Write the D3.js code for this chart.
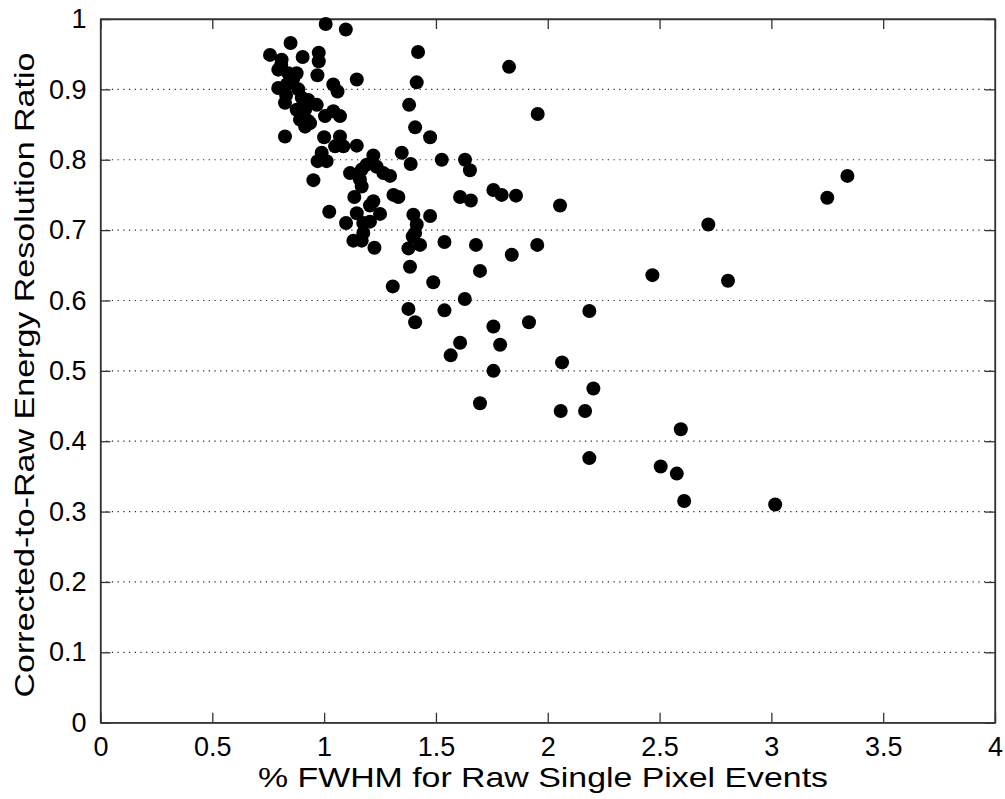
<!DOCTYPE html>
<html>
<head>
<meta charset="utf-8">
<script src="https://cdn.jsdelivr.net/npm/d3@7"></script>
<style>
	body { margin: 0; background: #fff; }
	text { font-family: Arial, "Liberation Sans", sans-serif; fill: #000; }
</style>
</head>
<body>
<div id="fwhm-scatter"></div>
<script>
// raw fwhm (%) for each detector pixel group
var fwhmRaw = [
	1.007, 1.097, 0.850, 0.758, 0.904, 0.976, 0.976, 0.810, 0.795, 0.840,
	0.877, 0.970, 1.146, 0.795, 0.833, 0.885, 0.900, 0.825, 0.929, 0.967,
	0.877, 0.915, 0.892, 0.929, 1.004, 1.041, 1.071, 1.041, 1.060, 0.825,
	1.000, 1.071, 1.049, 1.086, 0.989, 1.011, 0.915, 0.952, 0.971, 1.146,
	0.830, 0.937, 0.862, 0.808,
	1.220, 1.190, 1.168, 1.235, 1.265, 1.295, 1.116, 1.160, 1.168, 1.135,
	1.220, 1.310, 1.332, 1.205, 1.023, 1.146, 1.250, 1.098, 1.175, 1.205,
	1.175, 1.131, 1.168, 1.225, 1.347, 1.387, 1.380, 1.407, 1.474, 1.420,
	1.414, 1.526, 1.630, 1.652, 1.608, 1.656, 1.757, 1.794, 1.858, 2.055,
	1.399, 1.474, 1.414, 1.407, 1.396, 1.377, 1.429, 1.538, 1.679, 1.839,
	1.953, 1.697, 1.384, 1.488, 1.307, 1.629, 1.377, 1.538, 1.407, 2.186,
	1.757, 1.916, 1.608, 1.787, 1.566, 1.757, 2.064, 2.204, 1.697, 2.058,
	2.167, 2.186, 1.827, 1.955, 3.340, 3.250, 2.718, 2.468, 2.806, 2.595,
	2.505, 2.577, 2.610, 3.017
];

// corrected-to-raw resolution ratio, same order
var resRatio = [
	0.993, 0.985, 0.966, 0.949, 0.946, 0.952, 0.940, 0.942, 0.928, 0.923,
	0.923, 0.920, 0.914, 0.902, 0.907, 0.900, 0.888, 0.881, 0.885, 0.878,
	0.871, 0.871, 0.857, 0.855, 0.862, 0.869, 0.862, 0.907, 0.897, 0.833,
	0.832, 0.833, 0.819, 0.819, 0.810, 0.798, 0.847, 0.771, 0.798, 0.820,
	0.892, 0.852, 0.915, 0.935,
	0.806, 0.793, 0.786, 0.790, 0.781, 0.777, 0.781, 0.772, 0.762, 0.747,
	0.741, 0.750, 0.747, 0.735, 0.726, 0.724, 0.723, 0.710, 0.710, 0.712,
	0.696, 0.685, 0.685, 0.675, 0.810, 0.794, 0.878, 0.846, 0.832, 0.953,
	0.910, 0.800, 0.800, 0.785, 0.747, 0.742, 0.757, 0.750, 0.749, 0.735,
	0.722, 0.720, 0.708, 0.696, 0.691, 0.674, 0.679, 0.683, 0.679, 0.665,
	0.679, 0.642, 0.648, 0.626, 0.620, 0.602, 0.588, 0.586, 0.569, 0.585,
	0.563, 0.569, 0.540, 0.537, 0.522, 0.500, 0.512, 0.475, 0.454, 0.443,
	0.443, 0.376, 0.932, 0.865, 0.777, 0.746, 0.708, 0.636, 0.628, 0.417,
	0.364, 0.354, 0.315, 0.310
];

// tick values
var xTicks = [0, 0.5, 1, 1.5, 2, 2.5, 3, 3.5, 4];
var yTicks = [0, 0.1, 0.2, 0.3, 0.4, 0.5, 0.6, 0.7, 0.8, 0.9, 1];

// remove previous contents
document.getElementById("fwhm-scatter").innerHTML = "";

// set margins and draw canvas
var margin = {left: 100.5, right: 10, top: 19, bottom: 76.3};

var width = 1005 - margin.left - margin.right,
	height = 799 - margin.top - margin.bottom;

var canvas = d3.select("#fwhm-scatter").append("svg")
		.attr("height", height + margin.top + margin.bottom)
		.attr("width", width + margin.left + margin.right)
	.append("g")
		.attr("transform", "translate(" + margin.left + ", "
										+ margin.top + ")");

var axisColor = "#333";

// scales
var x = d3.scaleLinear()
	.domain([0, 4])
	.range([0, width]);

var y = d3.scaleLinear()
	.domain([0, 1])
	.range([height, 0]);

// dotted horizontal grid
canvas.append("g")
	.attr("class", "grid")
	.selectAll("line")
	.data(yTicks.slice(1, -1))
	.enter().append("line")
		.attr("x1", 0)
		.attr("x2", width)
		.attr("y1", function(d){ return y(d) })
		.attr("y2", function(d){ return y(d) })
		.attr("stroke", "#222")
		.attr("stroke-width", 1.2)
		.attr("stroke-dasharray", "1.2,4.5");

// axes, ticks pointing inward on every side
var xAxisCall = d3.axisBottom(x)
	.tickValues(xTicks)
	.tickSizeInner(-10)
	.tickSizeOuter(0)
	.tickPadding(13)
	.tickFormat(function(d){ return d3.format("")(d) });
var xAxis = canvas.append("g")
	.attr("class", "x-axis")
	.attr("transform", "translate(0, " + height + ")")
	.call(xAxisCall);
xAxis.selectAll("text")
	.attr("font-size", "27px")
	.attr("dy", "0.75em");

var yAxisCall = d3.axisLeft(y)
	.tickValues(yTicks)
	.tickSizeInner(-10)
	.tickSizeOuter(0)
	.tickPadding(14)
	.tickFormat(function(d){ return d3.format("")(d) });
var yAxis = canvas.append("g")
	.attr("class", "y-axis")
	.call(yAxisCall);
yAxis.selectAll("text")
	.attr("font-size", "27px")
	.attr("x", -14);

var topAxis = canvas.append("g")
	.attr("class", "top-axis")
	.call(d3.axisTop(x).tickValues(xTicks).tickSizeInner(-10).tickSizeOuter(0).tickFormat(""));

var rightAxis = canvas.append("g")
	.attr("class", "right-axis")
	.attr("transform", "translate(" + width + ", 0)")
	.call(d3.axisRight(y).tickValues(yTicks).tickSizeInner(-10).tickSizeOuter(0).tickFormat(""));

canvas.selectAll(".domain, .tick line")
	.attr("stroke", axisColor)
	.attr("stroke-width", 1.3);

// frame
canvas.append("rect")
	.attr("width", width)
	.attr("height", height)
	.attr("fill", "none")
	.attr("stroke", axisColor)
	.attr("stroke-width", 1.3);

// X label
canvas.append("text")
	.attr("class", "x axis-label")
	.attr("x", 543 - margin.left)
	.attr("y", height + 64)
	.attr("font-size", "28px")
	.attr("text-anchor", "middle")
	.attr("textLength", 570)
	.attr("lengthAdjust", "spacingAndGlyphs")
	.text("% FWHM for Raw Single Pixel Events");

// Y label
canvas.append("text")
	.attr("class", "y axis-label")
	.attr("x", -(375 - margin.top))
	.attr("y", 34 - margin.left)
	.attr("font-size", "28px")
	.attr("text-anchor", "middle")
	.attr("transform", "rotate(-90)")
	.attr("textLength", 645)
	.attr("lengthAdjust", "spacingAndGlyphs")
	.text("Corrected-to-Raw Energy Resolution Ratio");

// points
var points = fwhmRaw.map(function(d, i){ return {fwhm: d, ratio: resRatio[i]} });

canvas.selectAll("circle")
	.data(points)
	.enter().append("circle")
		.attr("cx", function(d){ return x(d.fwhm) })
		.attr("cy", function(d){ return y(d.ratio) })
		.attr("r", 7)
		.attr("fill", "#000");
</script>
</body>
</html>
